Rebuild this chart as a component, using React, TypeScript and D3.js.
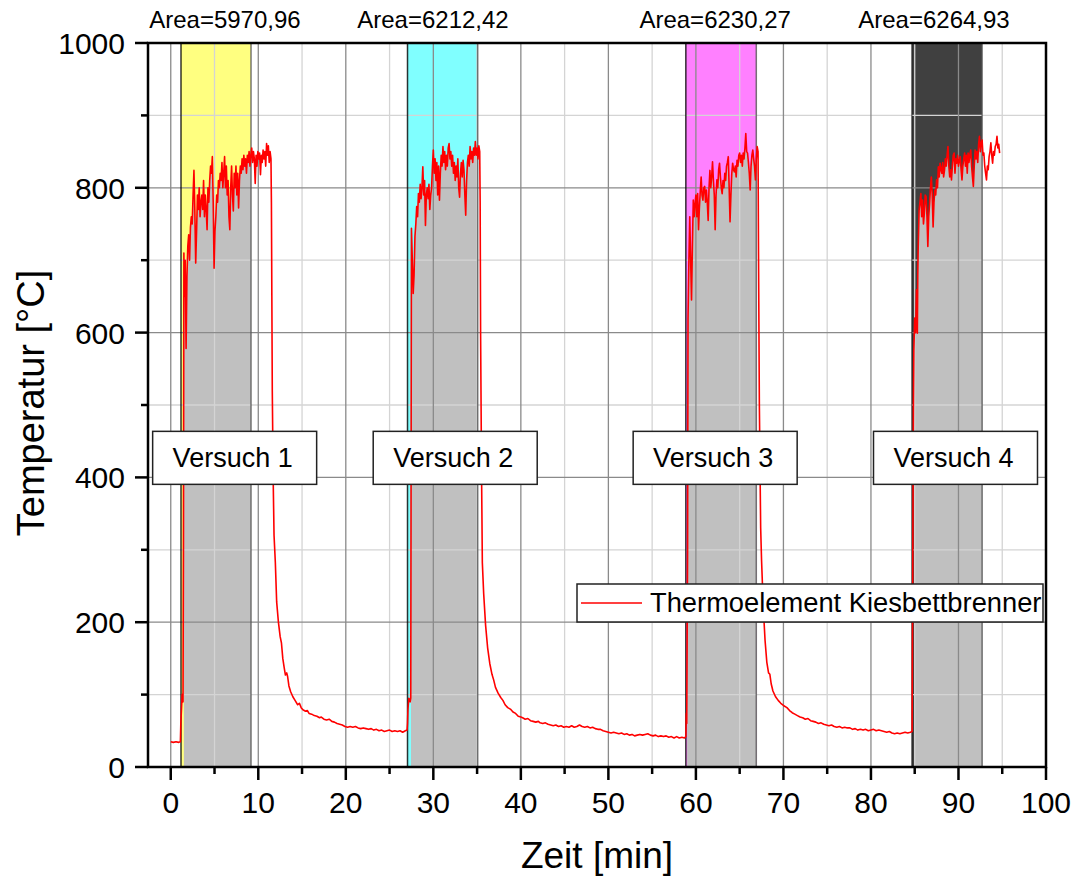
import React from 'react';
import * as d3 from 'd3';

// ---------- data (time [min], temperature [°C]) ----------
const preheat: [number, number][] = [
  [0, 35], [0.3, 34], [0.6, 35], [0.9, 34], [1.1, 35], [1.15, 60], [1.3, 100], [1.4, 90], [1.45, 300], [1.5, 710],
];
const run1: [number, number][] = [
  [1.55, 650], [1.65, 700], [1.75, 578], [1.85, 677], [1.95, 720], [2.05, 735], [2.15, 700], [2.25, 745], [2.35, 760],
  [2.45, 750], [2.55, 790], [2.65, 824], [2.75, 770], [2.85, 696], [2.95, 740], [3.05, 790], [3.15, 770], [3.25, 800],
  [3.35, 760], [3.45, 780], [3.55, 790], [3.65, 770], [3.75, 810], [3.85, 760], [3.95, 790], [4.05, 770], [4.15, 742],
  [4.25, 800], [4.35, 780], [4.45, 810], [4.55, 830], [4.65, 820], [4.75, 843], [4.85, 780], [4.95, 689], [5.05, 740],
  [5.15, 760], [5.25, 790], [5.35, 780], [5.45, 810], [5.55, 800], [5.65, 820], [5.75, 810], [5.85, 835], [5.95, 800],
  [6.05, 820], [6.15, 843], [6.25, 800], [6.35, 830], [6.45, 790], [6.55, 810], [6.65, 760], [6.75, 742], [6.85, 800],
  [6.95, 830], [7.05, 790], [7.15, 768], [7.25, 820], [7.35, 800], [7.45, 830], [7.55, 790], [7.65, 820], [7.75, 772],
  [7.85, 810], [7.95, 830], [8.05, 820], [8.15, 840], [8.25, 825], [8.35, 845], [8.45, 830], [8.55, 840], [8.65, 820],
  [8.75, 845], [8.85, 835], [8.95, 850], [9.05, 830], [9.15, 845], [9.25, 855], [9.35, 835], [9.45, 850], [9.55, 840],
  [9.65, 806], [9.75, 845], [9.85, 830], [9.95, 850], [10.05, 840], [10.15, 848], [10.25, 818], [10.35, 845],
  [10.45, 835], [10.55, 852], [10.65, 840], [10.75, 850], [10.85, 830], [10.95, 861], [11.05, 845], [11.15, 858],
  [11.25, 835], [11.35, 850], [11.45, 840],
];
const cool1: [number, number][] = [
  [11.5, 780], [11.55, 650], [11.6, 520], [11.7, 400], [11.8, 320], [11.95, 282], [12.1, 228], [12.3, 200], [12.5, 180],
  [12.65, 171], [12.8, 150], [12.95, 138], [13.1, 127], [13.25, 130], [13.35, 125], [13.5, 112], [13.7, 104], [13.95, 97],
  [14.2, 92], [14.5, 86], [14.7, 88], [14.9, 82], [15.1, 79], [15.4, 77], [15.6, 78], [15.8, 74], [16.1, 73], [16.4, 71],
  [16.7, 70], [17.0, 68], [17.2, 69], [17.5, 66], [17.8, 65], [18.1, 66], [18.4, 63], [18.7, 62], [19.0, 60], [19.3, 59],
  [19.6, 58], [19.9, 56], [20.2, 55], [20.5, 56], [20.8, 55], [21.1, 56], [21.4, 54], [21.7, 53], [22.0, 54], [22.3, 53],
  [22.6, 52], [22.9, 53], [23.2, 51], [23.5, 52], [23.8, 50], [24.1, 51], [24.4, 49], [24.7, 50], [25.0, 51], [25.3, 49],
  [25.6, 50], [25.9, 49], [26.2, 50], [26.5, 48], [26.8, 50], [27.0, 51],
];
const run2: [number, number][] = [
  [27.05, 60], [27.1, 80], [27.2, 95], [27.35, 90], [27.42, 95], [27.5, 744], [27.6, 700], [27.7, 654], [27.8, 680],
  [27.9, 733], [28.0, 750], [28.1, 774], [28.2, 760], [28.3, 792], [28.4, 780], [28.5, 805], [28.6, 785], [28.7, 800],
  [28.8, 829], [28.9, 790], [29.0, 810], [29.1, 748], [29.2, 790], [29.3, 800], [29.4, 785], [29.5, 805], [29.6, 770],
  [29.7, 790], [29.8, 800], [29.9, 830], [30.0, 852], [30.1, 820], [30.2, 840], [30.3, 810], [30.4, 835], [30.5, 790],
  [30.6, 830], [30.7, 783], [30.8, 820], [30.9, 845], [31.0, 830], [31.1, 857], [31.2, 835], [31.3, 850], [31.4, 825],
  [31.5, 845], [31.6, 830], [31.7, 855], [31.8, 861], [31.9, 840], [32.0, 850], [32.1, 830], [32.2, 845], [32.3, 820],
  [32.4, 835], [32.5, 810], [32.6, 830], [32.7, 815], [32.8, 840], [32.9, 800], [33.0, 787], [33.1, 820], [33.2, 835],
  [33.3, 815], [33.4, 838], [33.5, 825], [33.6, 790], [33.7, 762], [33.8, 810], [33.9, 835], [34.0, 845], [34.1, 830],
  [34.2, 857], [34.3, 840], [34.4, 850], [34.5, 835], [34.6, 855], [34.7, 845], [34.8, 864], [34.9, 845], [35.0, 855],
  [35.1, 840], [35.2, 858], [35.3, 850],
];
const cool2: [number, number][] = [
  [35.35, 780], [35.4, 600], [35.5, 420], [35.6, 282], [35.75, 240], [35.97, 196], [36.2, 165], [36.45, 143],
  [36.7, 128], [36.9, 120], [37.1, 110], [37.4, 102], [37.7, 96], [37.95, 92], [38.2, 86], [38.5, 82], [38.8, 80],
  [39.1, 76], [39.4, 74], [39.7, 70], [40.0, 69], [40.2, 68], [40.5, 66], [40.8, 67], [41.1, 64], [41.4, 63], [41.7, 62],
  [42.0, 63], [42.2, 61], [42.5, 60], [42.8, 61], [43.1, 59], [43.4, 58], [43.7, 57], [44.0, 58], [44.3, 56], [44.6, 57],
  [44.9, 55], [45.2, 56], [45.5, 55], [45.8, 57], [46.1, 55], [46.4, 56], [46.7, 58], [47.0, 56], [47.3, 55], [47.6, 56],
  [47.9, 54], [48.2, 55], [48.5, 53], [48.8, 52], [49.1, 52], [49.4, 50], [49.7, 49], [50.0, 48], [50.3, 47], [50.6, 48],
  [50.9, 47], [51.2, 46], [51.5, 47], [51.8, 45], [52.1, 46], [52.4, 44], [52.7, 45], [53.0, 43], [53.3, 44], [53.6, 45],
  [53.9, 44], [54.2, 45], [54.5, 46], [54.8, 44], [55.1, 43], [55.4, 44], [55.7, 42], [56.0, 43], [56.3, 42], [56.6, 43],
  [56.9, 41], [57.2, 42], [57.5, 40], [57.8, 42], [58.1, 40], [58.4, 41], [58.7, 40], [58.85, 42],
];
const run3: [number, number][] = [
  [58.9, 74], [58.95, 60], [59.05, 300], [59.1, 620], [59.2, 700], [59.3, 760], [59.4, 700], [59.5, 645], [59.6, 720],
  [59.7, 783], [59.8, 760], [59.9, 778], [60.0, 790], [60.1, 760], [60.2, 792], [60.3, 742], [60.4, 773], [60.5, 795],
  [60.6, 815], [60.7, 790], [60.8, 783], [60.9, 800], [61.0, 802], [61.1, 780], [61.2, 797], [61.3, 780], [61.4, 755],
  [61.5, 800], [61.6, 824], [61.7, 800], [61.8, 815], [61.9, 836], [62.0, 810], [62.1, 790], [62.2, 742], [62.3, 790],
  [62.4, 811], [62.5, 800], [62.6, 825], [62.7, 834], [62.8, 815], [62.9, 800], [63.0, 792], [63.1, 810], [63.2, 800],
  [63.3, 820], [63.4, 810], [63.5, 830], [63.6, 835], [63.7, 843], [63.8, 800], [63.9, 753], [64.0, 790], [64.1, 820],
  [64.2, 834], [64.3, 825], [64.4, 822], [64.5, 830], [64.6, 815], [64.7, 838], [64.8, 830], [64.9, 845], [65.0, 848],
  [65.1, 835], [65.2, 845], [65.3, 830], [65.4, 848], [65.5, 840], [65.6, 855], [65.7, 875], [65.8, 850], [65.9, 848],
  [66.0, 835], [66.1, 820], [66.2, 797], [66.3, 830], [66.4, 845], [66.5, 852], [66.6, 840], [66.7, 830], [66.8, 811],
  [66.9, 840], [67.0, 857], [67.1, 850],
];
const cool3: [number, number][] = [
  [67.15, 720], [67.25, 500], [67.4, 330], [67.5, 286], [67.7, 220], [67.9, 175], [68.1, 145], [68.3, 130], [68.45, 128],
  [68.6, 115], [68.8, 105], [69.1, 97], [69.4, 92], [69.7, 88], [70.0, 85], [70.4, 82], [70.7, 78], [71.0, 75], [71.3, 73],
  [71.6, 71], [71.9, 69], [72.2, 68], [72.5, 66], [72.8, 67], [73.1, 64], [73.4, 63], [73.7, 62], [74.0, 60], [74.3, 61],
  [74.6, 59], [74.9, 58], [75.2, 57], [75.5, 58], [75.8, 56], [76.1, 55], [76.4, 56], [76.7, 54], [77.0, 55], [77.3, 54],
  [77.6, 54], [77.9, 52], [78.2, 53], [78.5, 51], [78.8, 52], [79.1, 51], [79.4, 52], [79.7, 50], [80.0, 51], [80.3, 52],
  [80.6, 50], [80.9, 51], [81.2, 50], [81.5, 49], [81.8, 48], [82.1, 49], [82.4, 47], [82.7, 46], [83.0, 47], [83.3, 46],
  [83.6, 47], [83.9, 48], [84.2, 47], [84.5, 48], [84.7, 49],
];
const run4: [number, number][] = [
  [84.75, 200], [84.85, 500], [84.9, 576], [85.0, 620], [85.1, 600], [85.2, 659], [85.3, 599], [85.35, 680], [85.4, 719],
  [85.5, 769], [85.6, 780], [85.7, 792], [85.8, 760], [85.9, 783], [86.0, 750], [86.1, 765], [86.2, 790], [86.3, 788],
  [86.4, 760], [86.5, 719], [86.6, 760], [86.7, 778], [86.8, 800], [86.9, 815], [87.0, 790], [87.1, 746], [87.2, 780],
  [87.3, 797], [87.4, 790], [87.5, 811], [87.6, 800], [87.7, 829], [87.8, 815], [87.9, 834], [88.0, 825], [88.1, 820],
  [88.2, 835], [88.3, 815], [88.4, 824], [88.5, 840], [88.6, 830], [88.7, 845], [88.8, 857], [88.9, 830], [89.0, 815],
  [89.1, 825], [89.2, 811], [89.3, 830], [89.4, 845], [89.5, 848], [89.6, 820], [89.7, 840], [89.8, 834], [89.9, 845],
  [90.0, 830], [90.1, 838], [90.2, 843], [90.3, 825], [90.4, 811], [90.5, 830], [90.6, 840], [90.7, 848], [90.8, 830],
  [90.9, 845], [91.0, 820], [91.1, 848], [91.2, 835], [91.3, 845], [91.4, 852], [91.5, 830], [91.6, 815], [91.7, 802],
  [91.8, 830], [91.9, 852], [92.0, 840], [92.1, 850], [92.2, 835], [92.3, 860], [92.4, 871], [92.5, 850], [92.6, 862],
  [92.7, 866], [92.8, 845], [92.9, 848], [93.0, 830], [93.1, 820], [93.2, 811], [93.3, 830], [93.4, 825], [93.5, 843],
  [93.6, 850], [93.7, 862], [93.8, 845], [93.9, 834], [94.0, 850], [94.1, 845], [94.2, 857], [94.3, 860], [94.4, 871],
  [94.5, 855], [94.6, 860], [94.7, 848],
];

// integration windows (min)
const windowStart = [1.17, 27.05, 58.85, 84.67];
const windowEnd = [9.17, 35.07, 66.9, 92.7];
const fillStart = [1.5, 27.45, 59.0, 84.95];
const areaLabels = ['Area=5970,96', 'Area=6212,42', 'Area=6230,27', 'Area=6264,93'];
const areaLabelTime = [6.19, 29.96, 62.2, 87.2];
const versuchLabels = ['Versuch 1', 'Versuch 2', 'Versuch 3', 'Versuch 4'];
const versuchTime = [7.3, 32.5, 62.2, 89.66];
const versuchTemp = 427;

const xTicksMajor = [0, 10, 20, 30, 40, 50, 60, 70, 80, 90, 100];
const xTicksMinor = [5, 15, 25, 35, 45, 55, 65, 75, 85, 95];
const yTicksMajor = [0, 200, 400, 600, 800, 1000];
const yTicksMinor = [100, 300, 500, 700, 900];

const seriesName = 'Thermoelement Kiesbettbrenner';

// ---------- styles ----------
const windowColors = ['#ffff80', '#80ffff', '#ff80ff', '#404040'];
const FONT = 'Arial, "Liberation Sans", sans-serif';

export default function App() {
  const series = [...preheat, ...run1, ...cool1, ...run2, ...cool2, ...run3, ...cool3, ...run4];
  const left = 148, right = 1046, top = 43, bottom = 767;
  const x = d3.scaleLinear().domain([-2.6, 100]).range([left, right]);
  const y = d3.scaleLinear().domain([0, 1000]).range([bottom, top]);

  const bis = d3.bisector((d: [number, number]) => d[0]).left;
  const interp = (t: number) => {
    const i = bis(series, t);
    if (i <= 0) return series[0][1];
    if (i >= series.length) return series[series.length - 1][1];
    const a = series[i - 1], b = series[i];
    return a[1] + ((b[1] - a[1]) * (t - a[0])) / (b[0] - a[0]);
  };

  const line = d3.line<[number, number]>().x(d => x(d[0])).y(d => y(d[1]));
  const area = d3.area<[number, number]>().x(d => x(d[0])).y0(y(0)).y1(d => y(d[1]));

  const fills = windowStart.map((s, i) => {
    const fs = fillStart[i], e = windowEnd[i];
    const pts: [number, number][] = [[fs, interp(fs)], ...series.filter(d => d[0] > fs && d[0] < e), [e, interp(e)]];
    return area(pts) || '';
  });

  const boxW = 164, boxH = 53;

  return (
    <svg width={1076} height={881} style={{ position: 'absolute', left: 0, top: 0, background: '#fff' }} fontFamily={FONT}>
      <rect x={0} y={0} width={1076} height={881} fill="#fff" />
      {/* window colour bands */}
      {windowStart.map((s, i) => (
        <rect key={'w' + i} x={x(s)} y={y(1000)} width={x(windowEnd[i]) - x(s)} height={y(0) - y(1000)} fill={windowColors[i]} />
      ))}
      {/* grey integrated area */}
      {fills.map((p, i) => <path key={'f' + i} d={p} fill="#c0c0c0" stroke="none" />)}
      {/* grid */}
      {xTicksMinor.map(t => <line key={'gxm' + t} x1={x(t)} x2={x(t)} y1={top} y2={bottom} stroke="#d4d4d4" strokeWidth={1.3} />)}
      {yTicksMinor.map(v => <line key={'gym' + v} x1={left} x2={right} y1={y(v)} y2={y(v)} stroke="#d4d4d4" strokeWidth={1.3} />)}
      {xTicksMajor.map(t => <line key={'gx' + t} x1={x(t)} x2={x(t)} y1={top} y2={bottom} stroke="#8a8a8a" strokeWidth={1.3} />)}
      {yTicksMajor.map(v => <line key={'gy' + v} x1={left} x2={right} y1={y(v)} y2={y(v)} stroke="#8a8a8a" strokeWidth={1.3} />)}
      {/* window edges */}
      {windowStart.map((s, i) => (
        <g key={'e' + i}>
          <line x1={x(s)} x2={x(s)} y1={top} y2={bottom} stroke="#000" strokeOpacity={i === 3 ? 0.5 : 0.8} strokeWidth={1.5} />
          <line x1={x(windowEnd[i])} x2={x(windowEnd[i])} y1={top} y2={bottom} stroke="#555" strokeOpacity={0.8} strokeWidth={1.5} />
        </g>
      ))}
      {/* data line */}
      <path d={line(series) || ''} fill="none" stroke="#ff0000" strokeWidth={1.6} strokeLinejoin="round" />
      {/* area labels */}
      {areaLabels.map((t, i) => (
        <text key={'a' + i} x={x(areaLabelTime[i])} y={28} fontSize={24} textAnchor="middle" fill="#000">{t}</text>
      ))}
      {/* Versuch boxes */}
      {versuchLabels.map((t, i) => (
        <g key={'v' + i}>
          <rect x={x(versuchTime[i]) - boxW / 2} y={y(versuchTemp) - boxH / 2} width={boxW} height={boxH} fill="#fff" stroke="#222" strokeWidth={1.5} />
          <text x={x(versuchTime[i]) - 2} y={y(versuchTemp) + 9} fontSize={27} textAnchor="middle" fill="#000">{t}</text>
        </g>
      ))}
      {/* legend */}
      <rect x={577} y={584} width={466} height={38} fill="#fff" stroke="#222" strokeWidth={1.5} />
      <line x1={581} x2={642} y1={603} y2={603} stroke="#ff0000" strokeWidth={1.5} />
      <text x={650} y={612} fontSize={27.3} fill="#000">{seriesName}</text>
      {/* frame */}
      <rect x={left} y={top} width={right - left} height={bottom - top} fill="none" stroke="#000" strokeWidth={2.5} />
      {/* ticks */}
      {xTicksMajor.map(t => <line key={'tx' + t} x1={x(t)} x2={x(t)} y1={bottom} y2={bottom + 13} stroke="#000" strokeWidth={2.5} />)}
      {xTicksMinor.map(t => <line key={'txm' + t} x1={x(t)} x2={x(t)} y1={bottom} y2={bottom + 7} stroke="#000" strokeWidth={2.5} />)}
      {yTicksMajor.map(v => <line key={'ty' + v} x1={left - 13} x2={left} y1={y(v)} y2={y(v)} stroke="#000" strokeWidth={2.5} />)}
      {yTicksMinor.map(v => <line key={'tym' + v} x1={left - 7} x2={left} y1={y(v)} y2={y(v)} stroke="#000" strokeWidth={2.5} />)}
      {xTicksMajor.map(t => (
        <text key={'lx' + t} x={x(t)} y={813} fontSize={30} textAnchor="middle" fill="#000">{t}</text>
      ))}
      {yTicksMajor.map(v => (
        <text key={'ly' + v} x={125} y={y(v) + 11} fontSize={30} textAnchor="end" fill="#000">{v}</text>
      ))}
      <text x={(left + right) / 2} y={868} fontSize={37} textAnchor="middle" fill="#000">Zeit [min]</text>
      <text transform={`translate(44, ${(top + bottom) / 2 - 2}) rotate(-90)`} fontSize={38} textAnchor="middle" fill="#000">Temperatur [°C]</text>
    </svg>
  );
}
